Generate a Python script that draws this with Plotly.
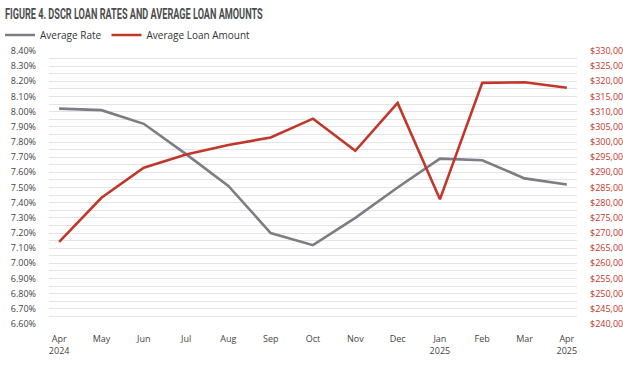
import plotly.graph_objects as go

months = ["Apr<br>2024", "May", "Jun", "Jul", "Aug", "Sep", "Oct", "Nov", "Dec",
          "Jan<br>2025", "Feb", "Mar", "Apr<br>2025"]
avg_rate = [8.02, 8.01, 7.92, 7.72, 7.51, 7.20, 7.12, 7.30, 7.50, 7.69, 7.68, 7.56, 7.52]
avg_loan = [267100, 281600, 291500, 295900, 299000, 301500, 307700, 297100, 312900,
            281100, 319500, 319700, 317900]

GRAY = "#7c7d85"
RED = "#c1372b"
GRID = "#e4e4e4"
FONT = "Open Sans, Liberation Sans, sans-serif"

x = list(range(len(months)))

fig = go.Figure()
fig.add_trace(go.Scatter(x=x, y=avg_rate, name="Average Rate", mode="lines",
                         line=dict(color=GRAY, width=2.6), yaxis="y"))
fig.add_trace(go.Scatter(x=x, y=avg_loan, name="Average Loan Amount", mode="lines",
                         line=dict(color=RED, width=2.6), yaxis="y2"))

fig.update_layout(
    width=623, height=377,
    margin=dict(l=49, r=46, t=51, b=53, autoexpand=False),
    paper_bgcolor="white", plot_bgcolor="white",
    font=dict(family=FONT, size=9, color="#444444"),
    title=dict(text="<b>FIGURE 4. DSCR LOAN RATES AND AVERAGE LOAN AMOUNTS</b>",
               font=dict(family="Roboto, sans-serif", size=15, color="#4d4d4f"),
               x=0.008, xref="container", xanchor="left",
               y=1 - 14 / 377, yref="container", yanchor="middle"),
    showlegend=True,
    legend=dict(orientation="h", x=-0.006, xref="container", xanchor="left",
                y=1 - 35 / 377, yref="container", yanchor="middle",
                font=dict(family=FONT, size=10, color="#333333"),
                bgcolor="rgba(0,0,0,0)", itemwidth=30, tracegroupgap=0),
    xaxis=dict(tickvals=x, ticktext=months, range=[-0.24, 12.24],
               showgrid=False, zeroline=False, showline=False, ticks="",
               tickfont=dict(size=9, color="#444444"), ticklabelstandoff=8),
    yaxis=dict(range=[6.6, 8.4], dtick=0.1, tick0=6.6, tickformat=".2f", ticksuffix="%",
               showgrid=True, gridcolor=GRID, gridwidth=1, zeroline=False,
               showline=False, ticks="", ticklabelstandoff=12,
               tickfont=dict(size=9, color="#444444"),
               minor=dict(dtick=0.05, tick0=6.6, showgrid=True, gridcolor=GRID, gridwidth=1)),
    yaxis2=dict(range=[240000, 330000], dtick=5000, tick0=240000, overlaying="y", side="right",
                tickprefix="$", tickformat=",.0f", showgrid=False, zeroline=False,
                showline=False, ticks="", ticklabelstandoff=12,
                tickfont=dict(size=9, color=RED)),
)

# Remove the page margin and squeeze the title horizontally to mimic the
# condensed headline face of the original.
post = """
document.body.style.margin = '0';
var el = document.querySelector('.gtitle');
if (el) {
  var w = el.getBBox().width;
  var s = 258 / w;
  el.style.transformBox = 'fill-box';
  el.style.transformOrigin = 'left center';
  el.style.transform = 'scaleX(' + s + ')';
}
"""

fig.write_html("out.html", post_script=post, config={"displayModeBar": False})
